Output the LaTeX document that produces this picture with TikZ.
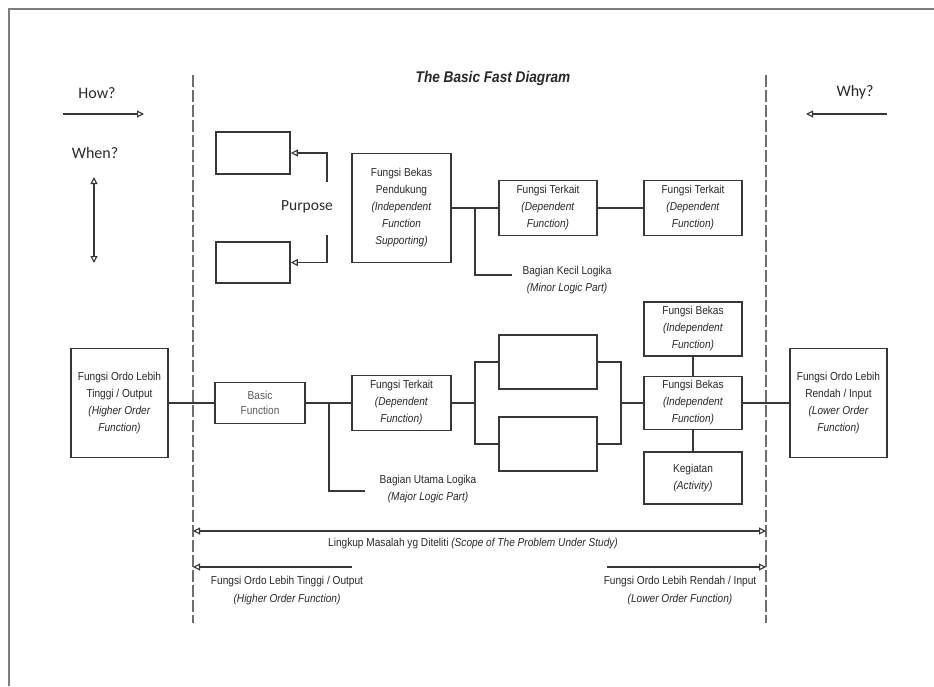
\documentclass[tikz,border=0pt]{standalone}
\usepackage{fontspec}
\setmainfont{Liberation Sans}[FakeStretch=0.88]
\newfontfamily\calfont{Carlito}
\usetikzlibrary{arrows.meta}
\definecolor{linec}{RGB}{55,55,55}
\definecolor{txtc}{RGB}{40,40,40}
\definecolor{dashc}{RGB}{110,110,110}
\definecolor{framec}{RGB}{125,125,125}
\begin{document}
\begin{tikzpicture}[x=1pt,y=-1pt,
  fbox/.style={draw=linec, line width=1.6pt, fill=white, align=center, inner sep=0pt, text=txtc, font=\fontsize{11.5}{17}\selectfont},
  conn/.style={draw=linec, line width=1.5pt},
  lbl/.style={align=center, inner sep=0pt, text=txtc, font=\fontsize{11.5}{17}\selectfont},
  big/.style={inner sep=0pt, text=txtc, font=\calfont\fontsize{16}{18}\selectfont},
  opentip/.style={-{Triangle[fill=white,length=7pt,width=7pt,line width=1.1pt]}},
  bothtips/.style={{Triangle[fill=white,length=7pt,width=7pt,line width=1.1pt]}-{Triangle[fill=white,length=7pt,width=7pt,line width=1.1pt]}},
  dashv/.style={draw=dashc, line width=1.6pt, dash pattern=on 12pt off 3pt},
]
\useasboundingbox (0,0) rectangle (934,686);
% frame
\draw[framec, line width=1.8pt] (9,686) -- (9,9) -- (934,9);
% title
\node[inner sep=0pt, text=txtc, font=\fontsize{15.5}{18}\selectfont\bfseries\itshape] (title) at (493,78) {The Basic Fast Diagram};
% how / when / why
\node[big] (how) at (97,93) {How?};
\coordinate (howa) at (63,114); \coordinate (howb) at (144,114);
\draw[conn, opentip] (howa) -- (howb);
\node[big] (when) at (95,153) {When?};
\coordinate (wha) at (94,177); \coordinate (whb) at (94,263);
\draw[conn, bothtips] (wha) -- (whb);
\node[big] (why) at (855,92) {Why?};
\coordinate (wya) at (887,114); \coordinate (wyb) at (806,114);
\draw[conn, opentip] (wya) -- (wyb);
% dashed scope lines
\coordinate (dl1) at (193,75); \coordinate (dl2) at (193,623);
\coordinate (dr1) at (766,75); \coordinate (dr2) at (766,623);
\draw[dashv] (dl1) -- (dl2);
\draw[dashv] (dr1) -- (dr2);
% top part
\node[fbox, minimum width=74pt, minimum height=42pt] (p1) at (253,153) {};
\node[fbox, minimum width=74pt, minimum height=41pt] (p2) at (253,262.5) {};
\node[big, font=\calfont\fontsize{15.5}{18}\selectfont] (purp) at (307,207) {Purpose};
\coordinate (pu1) at (327,182); \coordinate (pu2) at (327,235);
\draw[conn, opentip] (pu1) |- (p1.east);
\draw[conn, opentip] (pu2) |- (p2.east);
\node[fbox, minimum width=99pt, minimum height=109pt] (sup) at (401.5,208) {Fungsi Bekas\\Pendukung\\\textit{(Independent}\\\textit{Function}\\\textit{Supporting)}};
\node[fbox, minimum width=98pt, minimum height=55pt] (t1) at (548,208) {Fungsi Terkait\\\textit{(Dependent}\\\textit{Function)}};
\node[fbox, minimum width=98pt, minimum height=55pt] (t2) at (693,208) {Fungsi Terkait\\\textit{(Dependent}\\\textit{Function)}};
\draw[conn] (sup) -- (t1);
\draw[conn] (t1) -- (t2);
\coordinate (j2) at (475,208); \coordinate (mn) at (512,275);
\draw[conn] (j2) |- (mn);
\node[lbl] (minor) at (567,280) {Bagian Kecil Logika\\\textit{(Minor Logic Part)}};
% bottom part
\node[fbox, minimum width=97pt, minimum height=109pt] (hi) at (119.5,403) {Fungsi Ordo Lebih\\Tinggi / Output\\\textit{(Higher Order}\\\textit{Function)}};
\node[fbox, minimum width=90pt, minimum height=41pt, text=black!65, font=\fontsize{11.5}{15}\selectfont] (bf) at (260,403) {Basic\\Function};
\node[fbox, minimum width=99pt, minimum height=55pt] (dt) at (401.5,403) {Fungsi Terkait\\\textit{(Dependent}\\\textit{Function)}};
\node[fbox, minimum width=98pt, minimum height=54pt] (ea) at (548,362) {};
\node[fbox, minimum width=98pt, minimum height=54pt] (eb) at (548,444) {};
\node[fbox, minimum width=98pt, minimum height=54pt] (ib1) at (693,329) {Fungsi Bekas\\\textit{(Independent}\\\textit{Function)}};
\node[fbox, minimum width=98pt, minimum height=53pt] (ib2) at (693,403) {Fungsi Bekas\\\textit{(Independent}\\\textit{Function)}};
\node[fbox, minimum width=98pt, minimum height=52pt] (kg) at (693,478) {Kegiatan\\\textit{(Activity)}};
\node[fbox, minimum width=97pt, minimum height=109pt] (lo) at (838.5,403) {Fungsi Ordo Lebih\\Rendah / Input\\\textit{(Lower Order}\\\textit{Function)}};
\draw[conn] (hi) -- (bf);
\draw[conn] (bf) -- (dt);
\coordinate (j1) at (329,403); \coordinate (mj) at (365,491);
\draw[conn] (j1) |- (mj);
\node[lbl] (major) at (428,489) {Bagian Utama Logika\\\textit{(Major Logic Part)}};
\coordinate (j3) at (475,403); \coordinate (j4) at (621,403);
\draw[conn] (dt.east) -- (j3);
\draw[conn] (ea.west) -| (j3) |- (eb.west);
\draw[conn] (ea.east) -| (j4) |- (eb.east);
\draw[conn] (j4) -- (ib2.west);
\draw[conn] (ib1) -- (ib2);
\draw[conn] (ib2) -- (kg);
\draw[conn] (ib2) -- (lo);
% scope arrows
\coordinate (sc1) at (193,531); \coordinate (sc2) at (766,531);
\draw[conn, line width=1.3pt, bothtips] (sc1) -- (sc2);
\node[lbl] (scope) at (473,544) {Lingkup Masalah yg Diteliti \textit{(Scope of The Problem Under Study)}};
\coordinate (ha) at (352,567); \coordinate (hb) at (193,567);
\draw[conn, line width=1.3pt, opentip] (ha) -- (hb);
\node[lbl, font=\fontsize{11.5}{18}\selectfont] (hotxt) at (287,591) {Fungsi Ordo Lebih Tinggi / Output\\\textit{(Higher Order Function)}};
\coordinate (la) at (607,567); \coordinate (lb) at (766,567);
\draw[conn, line width=1.3pt, opentip] (la) -- (lb);
\node[lbl, font=\fontsize{11.5}{18}\selectfont] (lotxt) at (680,591) {Fungsi Ordo Lebih Rendah / Input\\\textit{(Lower Order Function)}};
\end{tikzpicture}
\end{document}
